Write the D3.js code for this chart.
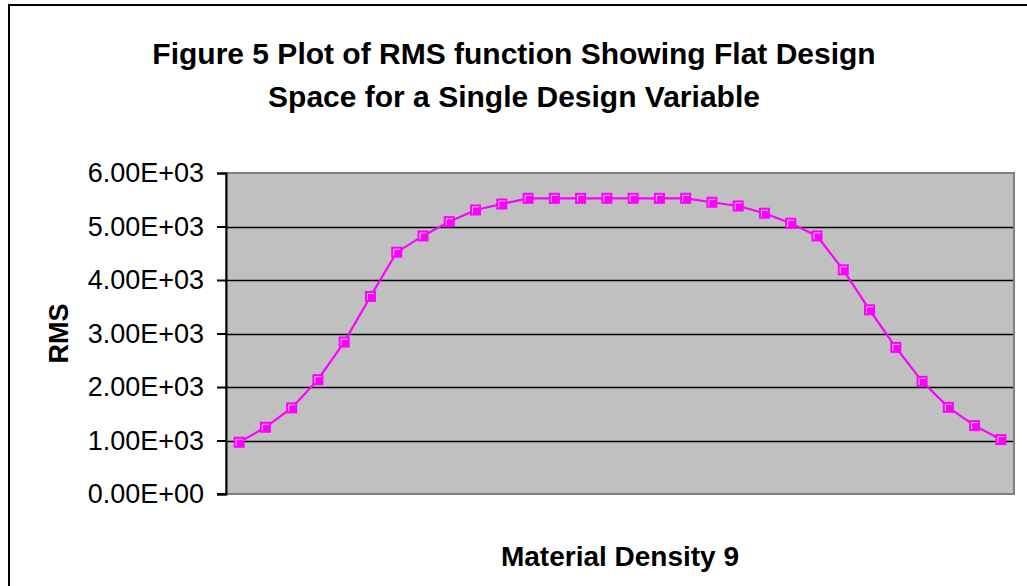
<!DOCTYPE html>
<html>
<head>
<meta charset="utf-8">
<script src="https://cdn.jsdelivr.net/npm/d3@7"></script>
<style>
  body { margin: 0; background: #fff; }
  text { font-family: "Liberation Sans", Arial, sans-serif; }
</style>
</head>
<body>
<div id="chart"></div>
<script>
var width = 1027,
height = 586;

// data (30 design points, no x labels shown)
var titleLines = ["Figure 5 Plot of RMS function Showing Flat Design", "Space for a Single Design Variable"];
var xLabel = "Material Density 9";
var yLabel = "RMS";
var yTicks = [0, 1000, 2000, 3000, 4000, 5000, 6000];
var points = d3.range(1, 31);
var rms = [967, 1247, 1609, 2137, 2840, 3692, 4520, 4824, 5091, 5309,
           5421, 5527, 5527, 5527, 5527, 5527, 5527, 5527, 5453, 5384,
           5248, 5061, 4824, 4190, 3443, 2740, 2105, 1620, 1278, 1017];

var svg = d3.select('#chart').append('svg')
    .attr('width', width)
    .attr('height', height);

// outer chart frame (only top/left fall inside the view)
svg.append('rect')
    .attr('x', 9).attr('y', 5)
    .attr('width', width + 20).attr('height', height + 20)
    .attr('fill', '#fff')
    .attr('stroke', '#000')
    .attr('stroke-width', 2);

var plot = {left: 226, right: 1014, top: 173, bottom: 494};

let scaleX = d3.scaleBand().domain(points).range([plot.left, plot.right]);
let scaleY = d3.scaleLinear().domain([0, 6000]).range([plot.bottom, plot.top]);

// plot area
svg.append('rect')
    .attr('x', plot.left).attr('y', plot.top)
    .attr('width', plot.right - plot.left)
    .attr('height', plot.bottom - plot.top)
    .attr('fill', '#c0c0c0')
    .attr('stroke', '#808080')
    .attr('stroke-width', 2);

// gridlines
svg.append('g').selectAll('line')
    .data(yTicks.filter(d => d > 0 && d < 6000))
    .enter().append('line')
    .attr('x1', plot.left).attr('x2', plot.right - 1)
    .attr('y1', d => Math.round(scaleY(d)) + 0.5)
    .attr('y2', d => Math.round(scaleY(d)) + 0.5)
    .attr('stroke', '#000')
    .attr('stroke-width', 1.5);

// y axis
var axisY = d3.axisLeft(scaleY)
    .tickValues(yTicks)
    .tickSize(9)
    .tickPadding(13)
    .tickFormat(d => {
        var s = d3.format('.2e')(d); // 6.00e+3
        var parts = s.split('e');
        var exp = +parts[1];
        return parts[0] + 'E' + (exp < 0 ? '-' : '+') + String(Math.abs(exp)).padStart(2, '0');
    });
var gy = svg.append('g')
    .attr('transform', 'translate(' + plot.left + ',0)')
    .call(axisY);
gy.select('.domain').attr('stroke', '#000').attr('stroke-width', 2);
gy.selectAll('.tick line').attr('stroke', '#000').attr('stroke-width', 2);
gy.selectAll('.tick text')
    .attr('fill', '#000')
    .attr('font-size', 27)
    .attr('font-family', '"Liberation Sans", Arial, sans-serif');

// bottom axis line
svg.append('line')
    .attr('x1', plot.left - 9).attr('x2', plot.left + 1)
    .attr('y1', plot.bottom).attr('y2', plot.bottom)
    .attr('stroke', '#000').attr('stroke-width', 2);

// series
var lineFunc = d3.line()
    .x((d, i) => scaleX(points[i]) + scaleX.bandwidth() / 2)
    .y(d => scaleY(d));

svg.append('path')
    .attr('d', lineFunc(rms))
    .attr('fill', 'none')
    .attr('stroke', '#ff00ff')
    .attr('stroke-width', 2.2);

var markers = svg.append('g').selectAll('g')
    .data(rms)
    .enter().append('g')
    .attr('transform', (d, i) => 'translate(' + (scaleX(points[i]) + scaleX.bandwidth() / 2) + ',' + scaleY(d) + ')');
markers.append('rect')
    .attr('x', -5.5).attr('y', -5.5)
    .attr('width', 11).attr('height', 11)
    .attr('fill', '#ff00ff');
markers.append('path')
    .attr('d', 'M-3,3.5V-3H3.5')
    .attr('fill', 'none')
    .attr('stroke', '#ffc8ff')
    .attr('stroke-width', 1);

// title
svg.append('text')
    .attr('x', 514)
    .attr('y', 64)
    .attr('text-anchor', 'middle')
    .attr('font-size', 30)
    .attr('font-weight', 'bold')
    .selectAll('tspan').data(titleLines)
    .enter().append('tspan')
    .attr('x', 514)
    .attr('dy', (d, i) => i == 0 ? 0 : 43)
    .text(d => d);

// axis titles
svg.append('text')
    .attr('x', (plot.left + plot.right) / 2)
    .attr('y', 566)
    .attr('text-anchor', 'middle')
    .attr('font-size', 28)
    .attr('font-weight', 'bold')
    .text(xLabel);

svg.append('text')
    .attr('transform', 'translate(68,' + ((plot.top + plot.bottom) / 2) + ') rotate(-90)')
    .attr('text-anchor', 'middle')
    .attr('font-size', 27)
    .attr('font-weight', 'bold')
    .text(yLabel);
</script>
</body>
</html>
